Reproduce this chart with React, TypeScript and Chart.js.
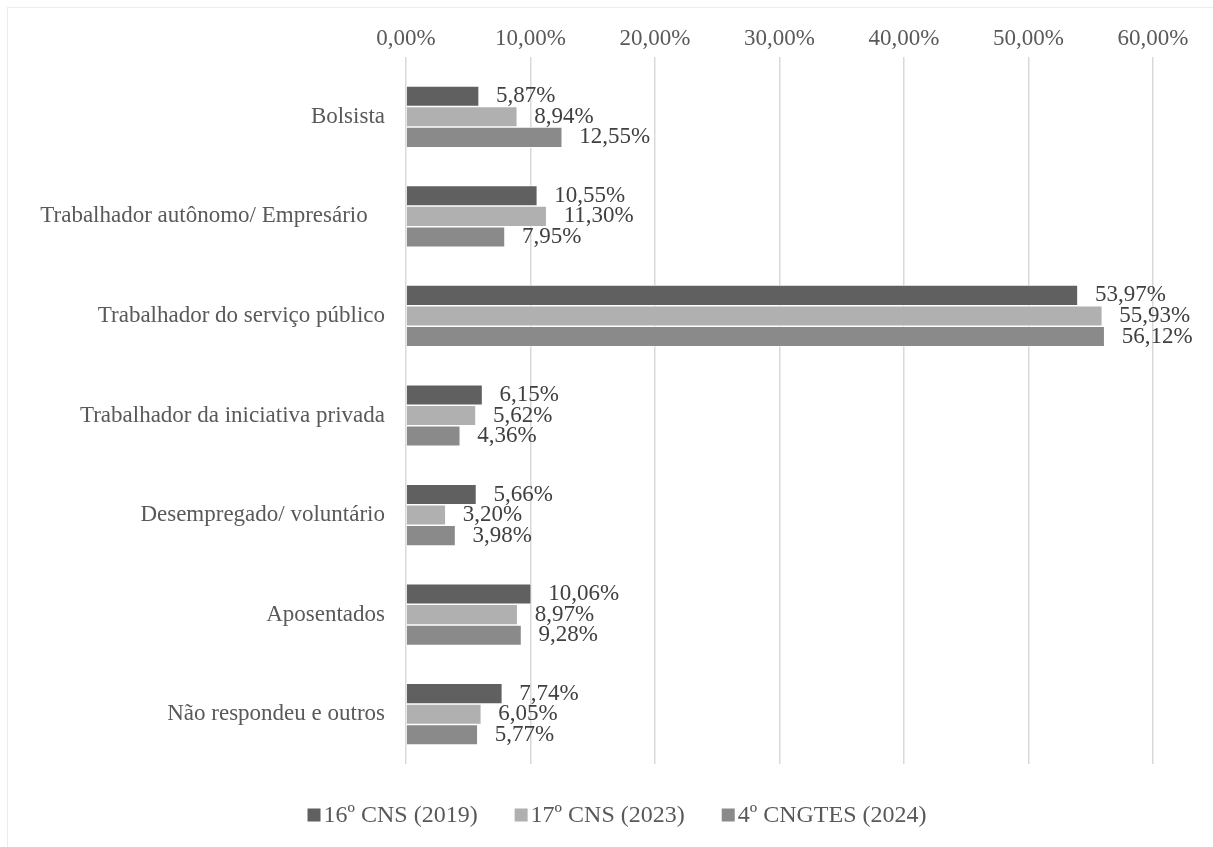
import React, { useEffect, useRef } from "react";
import { Chart, registerables } from "chart.js";

Chart.register(...registerables);

const categories = [
  "Bolsista",
  "Trabalhador autônomo/ Empresário   ",
  "Trabalhador do serviço público",
  "Trabalhador da iniciativa privada",
  "Desempregado/ voluntário",
  "Aposentados",
  "Não respondeu e outros",
];

const seriesNames = ["16º CNS (2019)", "17º CNS (2023)", "4º CNGTES (2024)"];
const cns2019 = [5.87, 10.55, 53.97, 6.15, 5.66, 10.06, 7.74];
const cns2023 = [8.94, 11.3, 55.93, 5.62, 3.2, 8.97, 6.05];
const cngtes2024 = [12.55, 7.95, 56.12, 4.36, 3.98, 9.28, 5.77];
const seriesColors = ["#606060", "#b0b0b0", "#8a8a8a"];
const tickValues = [0, 10, 20, 30, 40, 50, 60];

const FONT = '"Liberation Serif", "Times New Roman", serif';
const fmt = (v: number) => v.toFixed(2).replace(".", ",") + "%";

const dataLabels = {
  id: "dataLabels",
  afterDatasetsDraw(chart: any) {
    const ctx = chart.ctx;
    ctx.save();
    ctx.font = `23px ${FONT}`;
    ctx.fillStyle = "#404040";
    ctx.textAlign = "left";
    ctx.textBaseline = "middle";
    chart.data.datasets.forEach((ds: any, di: number) => {
      const meta = chart.getDatasetMeta(di);
      meta.data.forEach((bar: any, i: number) => {
        ctx.fillText(fmt(ds.data[i]), bar.x + 17, bar.y);
      });
    });
    ctx.restore();
  },
};

const customLegend = {
  id: "customLegend",
  afterDraw(chart: any) {
    const ctx = chart.ctx;
    const box = 13;
    const gapBox = 3;
    const gapItem = 37;
    const cy = 815;
    ctx.save();
    ctx.font = `24px ${FONT}`;
    const widths = seriesNames.map((n) => ctx.measureText(n).width);
    const total =
      widths.reduce((a, w) => a + box + gapBox + w, 0) + gapItem * (seriesNames.length - 1);
    let x = 617 - total / 2;
    seriesNames.forEach((n, i) => {
      ctx.fillStyle = seriesColors[i];
      ctx.fillRect(x, cy - box / 2, box, box);
      x += box + gapBox;
      ctx.fillStyle = "#595959";
      ctx.textAlign = "left";
      ctx.textBaseline = "middle";
      ctx.fillText(n, x, cy + 1);
      x += widths[i] + gapItem;
    });
    ctx.restore();
  },
};

export default function App() {
  const ref = useRef<HTMLCanvasElement | null>(null);
  useEffect(() => {
    if (!ref.current) return;
    const chart = new Chart(ref.current, {
      type: "bar",
      data: {
        labels: categories,
        datasets: [cns2019, cns2023, cngtes2024].map((d, i) => ({
          label: seriesNames[i],
          data: d,
          backgroundColor: seriesColors[i],
          borderColor: "#ffffff",
          borderWidth: 0.75,
          barPercentage: 1,
          categoryPercentage: 0.62,
        })),
      },
      options: {
        indexAxis: "y",
        animation: false,
        responsive: true,
        maintainAspectRatio: false,
        layout: { padding: { top: 0, left: 0, right: 60, bottom: 83 } },
        plugins: { legend: { display: false }, tooltip: { enabled: false } },
        scales: {
          x: {
            position: "top",
            min: 0,
            max: 60,
            afterBuildTicks: (scale: any) => {
              scale.ticks = tickValues.map((v) => ({ value: v }));
            },
            afterFit: (scale: any) => {
              scale.height = 67;
              scale.paddingLeft = 0;
              scale.paddingRight = 0;
            },
            grid: {
              color: "#d9d9d9",
              lineWidth: 1.5,
              drawTicks: true,
              tickLength: 10,
            },
            border: { display: false },
            ticks: {
              padding: 4,
              color: "#595959",
              font: { family: FONT, size: 23 },
              callback: (v: any) => fmt(Number(v)),
              maxRotation: 0,
              autoSkip: false,
            },
          },
          y: {
            afterFit: (scale: any) => {
              scale.width = 406;
              scale.paddingTop = 0;
              scale.paddingBottom = 0;
            },
            grid: { display: false, drawTicks: false },
            border: { display: false },
            ticks: {
              padding: 21,
              color: "#595959",
              font: { family: FONT, size: 23 },
              autoSkip: false,
            },
          },
        },
      },
      plugins: [dataLabels, customLegend],
    });
    return () => chart.destroy();
  }, []);

  return (
    <>
      <div
        style={{
          position: "fixed",
          left: 7,
          top: 7,
          width: 1230,
          height: 870,
          border: "1px solid #ececec",
        }}
      />
      <div style={{ position: "fixed", left: 0, top: 0, width: 1213, height: 847 }}>
        <canvas ref={ref} />
      </div>
    </>
  );
}
